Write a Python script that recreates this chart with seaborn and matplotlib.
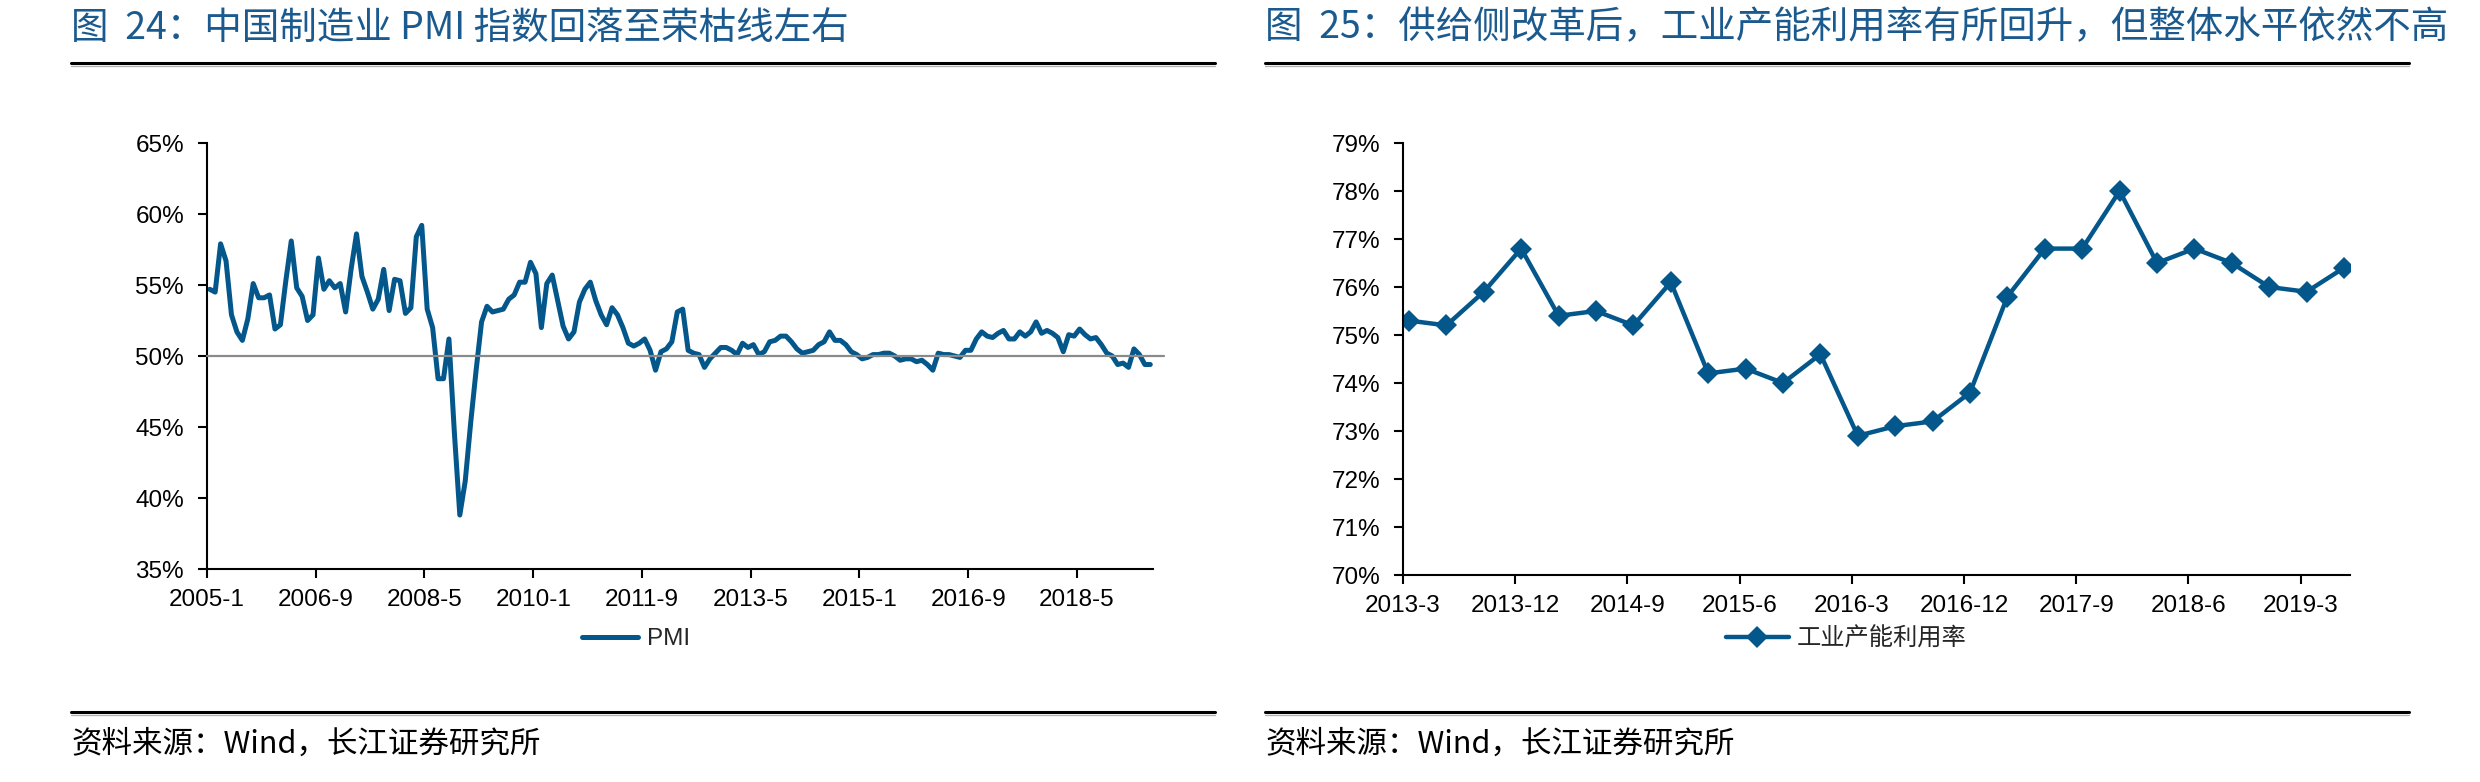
import pandas as pd
import matplotlib
matplotlib.use('Agg')
import matplotlib.pyplot as plt
from matplotlib.lines import Line2D
from matplotlib.ticker import FuncFormatter
import seaborn as sns

# 图24 中国制造业PMI, 月度 2005-1 ~ 2019-6
pmi_2005 = [54.7, 54.5, 57.9, 56.7, 52.9, 51.7, 51.1, 52.6, 55.1, 54.1, 54.1, 54.3]
pmi_2006 = [51.9, 52.2, 55.3, 58.1, 54.8, 54.2, 52.5, 52.9, 56.9, 54.7, 55.3, 54.8]
pmi_2007 = [55.1, 53.1, 56.1, 58.6, 55.6, 54.5, 53.3, 54.0, 56.1, 53.2, 55.4, 55.3]
pmi_2008 = [53.0, 53.4, 58.4, 59.2, 53.3, 52.0, 48.4, 48.4, 51.2, 44.6, 38.8, 41.2]
pmi_2009 = [45.3, 49.0, 52.4, 53.5, 53.1, 53.2, 53.3, 54.0, 54.3, 55.2, 55.2, 56.6]
pmi_2010 = [55.8, 52.0, 55.1, 55.7, 53.9, 52.1, 51.2, 51.7, 53.8, 54.7, 55.2, 53.9]
pmi_2011 = [52.9, 52.2, 53.4, 52.9, 52.0, 50.9, 50.7, 50.9, 51.2, 50.4, 49.0, 50.3]
pmi_2012 = [50.5, 51.0, 53.1, 53.3, 50.4, 50.2, 50.1, 49.2, 49.8, 50.2, 50.6, 50.6]
pmi_2013 = [50.4, 50.1, 50.9, 50.6, 50.8, 50.1, 50.3, 51.0, 51.1, 51.4, 51.4, 51.0]
pmi_2014 = [50.5, 50.2, 50.3, 50.4, 50.8, 51.0, 51.7, 51.1, 51.1, 50.8, 50.3, 50.1]
pmi_2015 = [49.8, 49.9, 50.1, 50.1, 50.2, 50.2, 50.0, 49.7, 49.8, 49.8, 49.6, 49.7]
pmi_2016 = [49.4, 49.0, 50.2, 50.1, 50.1, 50.0, 49.9, 50.4, 50.4, 51.2, 51.7, 51.4]
pmi_2017 = [51.3, 51.6, 51.8, 51.2, 51.2, 51.7, 51.4, 51.7, 52.4, 51.6, 51.8, 51.6]
pmi_2018 = [51.3, 50.3, 51.5, 51.4, 51.9, 51.5, 51.2, 51.3, 50.8, 50.2, 50.0, 49.4]
pmi_2019 = [49.5, 49.2, 50.5, 50.1, 49.4, 49.4]
pmi = (pmi_2005 + pmi_2006 + pmi_2007 + pmi_2008 + pmi_2009 + pmi_2010 + pmi_2011
       + pmi_2012 + pmi_2013 + pmi_2014 + pmi_2015 + pmi_2016 + pmi_2017 + pmi_2018 + pmi_2019)
pmi_tick_labels = ['2005-1', '2006-9', '2008-5', '2010-1', '2011-9',
                   '2013-5', '2015-1', '2016-9', '2018-5']
threshold = 50  # 荣枯线

# 图25 工业产能利用率, 季度 2013Q1 ~ 2019Q2
cu_values = [75.3, 75.2, 75.9, 76.8, 75.4, 75.5, 75.2, 76.1, 74.2, 74.3, 74.0, 74.6, 72.9,
             73.1, 73.2, 73.8, 75.8, 76.8, 76.8, 78.0, 76.5, 76.8, 76.5, 76.0, 75.9, 76.4]
cu_tick_labels = ['2013-3', '2013-12', '2014-9', '2015-6', '2016-3',
                  '2016-12', '2017-9', '2018-6', '2019-3']

sns.set_theme(style='ticks')
plt.rcParams['font.family'] = ['Liberation Sans', 'Noto Sans CJK SC']
plt.rcParams['axes.unicode_minus'] = False

W, H = 2480, 782
blue = '#04578b'
title_blue = '#1b5a8e'
cjk = ['Noto Sans CJK SC', 'Liberation Sans']
fs = 17.5

fig = plt.figure(figsize=(W / 100, H / 100), dpi=100)
ax1 = fig.add_axes([207 / W, 1 - 569 / H, (1153 - 207) / W, (569 - 143) / H])
ax2 = fig.add_axes([1403 / W, 1 - 575 / H, (2350 - 1403) / W, (575 - 143) / H])

#左图 PMI
df1 = pd.DataFrame({'idx': range(len(pmi)), 'PMI': pmi})
sns.lineplot(data=df1, x='idx', y='PMI', ax=ax1, color=blue, linewidth=3.6,
             label='PMI', solid_joinstyle='round', solid_capstyle='round', zorder=2)
ax1.axhline(threshold, xmin=0, xmax=1.012, color='#8a8a8a', lw=1.6, clip_on=False, zorder=3)
ax1.set_xlim(-0.5, len(pmi) - 0.5)
ax1.set_ylim(35, 65)
ax1.set_yticks(range(35, 66, 5))
ax1.set_xticks([20 * k - 0.5 for k in range(len(pmi_tick_labels))])
ax1.set_xticklabels(pmi_tick_labels)

#右图 产能利用率
df2 = pd.DataFrame({'idx': range(len(cu_values)), 'cu': cu_values})
sns.lineplot(data=df2, x='idx', y='cu', ax=ax2, color=blue, linewidth=3.2,
             marker='D', markersize=11.5, markeredgewidth=0, label='工业产能利用率',
             solid_joinstyle='round')
ax2.set_xlim(-0.16, len(cu_values) - 0.84)
ax2.set_ylim(70, 79)
ax2.set_yticks(range(70, 80))
ax2.set_xticks([3 * k - 0.16 for k in range(len(cu_tick_labels))])
ax2.set_xticklabels(cu_tick_labels)

pct = FuncFormatter(lambda v, p: f'{v:.0f}%')
for ax in (ax1, ax2):
    ax.yaxis.set_major_formatter(pct)
    ax.set_xlabel('')
    ax.set_ylabel('')
    ax.grid(False)
    for s in ('top', 'right'):
        ax.spines[s].set_visible(False)
    for s in ('left', 'bottom'):
        ax.spines[s].set_color('black')
        ax.spines[s].set_linewidth(1.5)
    ax.tick_params(axis='both', direction='out', length=6.5, width=1.5,
                   color='black', labelsize=fs, labelcolor='black')
    ax.tick_params(axis='y', pad=10)
    ax.tick_params(axis='x', pad=8)

leg1 = ax1.legend(loc='center', bbox_to_anchor=(636 / W, 1 - 639 / H),
                  bbox_transform=fig.transFigure, frameon=False,
                  fontsize=fs, handlelength=2.3, handletextpad=0.4)
leg2 = ax2.legend(loc='center', bbox_to_anchor=(1846 / W, 1 - 639 / H),
                  bbox_transform=fig.transFigure, frameon=False,
                  prop={'family': cjk, 'size': fs}, handlelength=2.6, handletextpad=0.3)

# 标题
fig.text(71 / W, 1 - 28 / H, '图  24：中国制造业 PMI 指数回落至荣枯线左右',
         color=title_blue, fontsize=27, family=cjk, va='center', ha='left')
fig.text(1265 / W, 1 - 28 / H, '图  25：供给侧改革后，工业产能利用率有所回升，但整体水平依然不高',
         color=title_blue, fontsize=27, family=cjk, va='center', ha='left')

# 分隔线
for x0, x1 in ((71, 1215), (1265, 2409)):
    for y in (63, 712):
        fig.add_artist(Line2D([x0 / W, x1 / W], [1 - y / H, 1 - y / H], color='black', lw=2.2))
        fig.add_artist(Line2D([x0 / W, x1 / W], [1 - (y + 3) / H, 1 - (y + 3) / H],
                              color='#b0b0b0', lw=0.9))

# 资料来源
for x0 in (71, 1265):
    fig.text(x0 / W, 1 - 744 / H, '资料来源：Wind，长江证券研究所',
             fontsize=22, family=cjk, va='center', ha='left', color='black')

fig.savefig('out.png', dpi=100)
